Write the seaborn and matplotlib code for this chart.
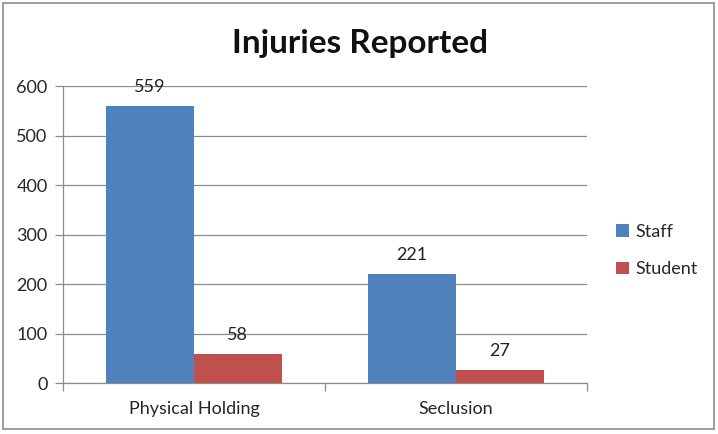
import matplotlib.pyplot as plt
import matplotlib.ticker as mticker
import pandas as pd
import seaborn as sns

# Data
categories = ['Physical Holding', 'Seclusion']
staff = [559, 221]
student = [58, 27]
series_names = ['Staff', 'Student']

df = pd.DataFrame({
    'category': categories * 2,
    'group': [series_names[0]] * 2 + [series_names[1]] * 2,
    'value': staff + student,
})

sns.set_style('white')
plt.rcParams['font.family'] = ['Lato', 'DejaVu Sans']

fig = plt.figure(figsize=(7.18, 4.34), dpi=100)
ax = fig.add_axes([0.0877, 0.1175, 0.7298, 0.684])

sns.barplot(data=df, x='category', y='value', hue='group', order=categories,
            hue_order=series_names, palette=['#4F81BD', '#C0504D'],
            width=0.67, saturation=1, linewidth=0, ax=ax, zorder=3)

# Value labels
for cont in ax.containers:
    ax.bar_label(cont, padding=8, fontsize=13, color='#222222')

ax.set_xlim(-0.5, 1.5)
ax.set_ylim(0, 600)
ax.yaxis.set_major_locator(mticker.MultipleLocator(100))
ax.grid(axis='y', color='#8c8c8c', linewidth=0.9, zorder=0)
ax.set_axisbelow(True)
ax.set_xlabel('')
ax.set_ylabel('')

for s in ['top', 'right']:
    ax.spines[s].set_visible(False)
for s in ['left', 'bottom']:
    ax.spines[s].set_color('#8c8c8c')
    ax.spines[s].set_linewidth(0.9)

ax.tick_params(axis='y', which='major', length=6, color='#8c8c8c', width=0.9,
               labelsize=13, pad=5, left=True)
ax.tick_params(axis='x', which='major', length=0, labelsize=13, pad=13)
ax.xaxis.set_minor_locator(mticker.FixedLocator([-0.5, 0.5, 1.5]))
ax.tick_params(axis='x', which='minor', length=6, color='#8c8c8c', width=0.9,
               bottom=True)

ax.legend(loc='center left', bbox_to_anchor=(1.025, 0.446), frameon=False,
          fontsize=13, handlelength=0.7, handleheight=0.7, labelspacing=1.2,
          handletextpad=0.35)

fig.text(0.502, 0.9, 'Injuries Reported', ha='center', va='center',
         fontsize=24, fontweight='bold', color='#111111')

# Outer border
fig.add_artist(plt.Rectangle((0.004, 0.012), 0.99, 0.98, transform=fig.transFigure,
                             fill=False, edgecolor='#8c8c8c', linewidth=1.2))

fig.savefig('out.png', dpi=100)
